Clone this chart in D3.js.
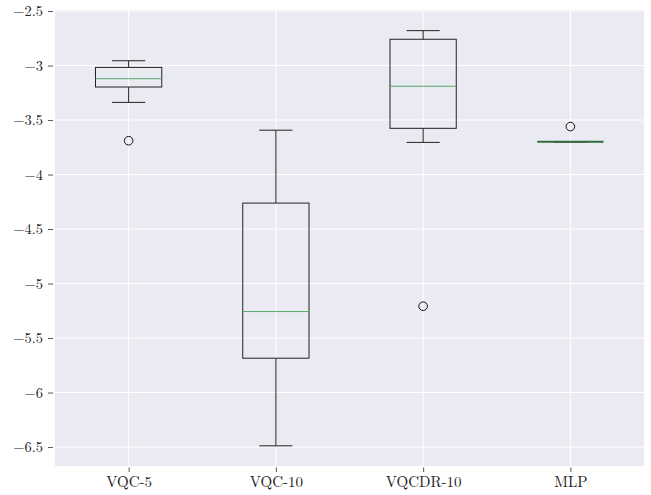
<!DOCTYPE html>
<html>
<head>
<meta charset="utf-8">
<script src="https://cdn.jsdelivr.net/npm/d3@7"></script>
<style>
  body { margin: 0; background: #fff; }
  text { font-family: "Latin Modern Roman", "CMU Serif", "DejaVu Serif", serif; }
</style>
</head>
<body>
<svg id="chart" width="651" height="495"></svg>
<script>
// box statistics
const models = ["VQC-5", "VQC-10", "VQCDR-10", "MLP"];
const whiskerHigh = [-2.956, -3.593, -2.68, -3.70];
const q3 = [-3.017, -4.262, -2.759, -3.70];
const medians = [-3.121, -5.257, -3.19, -3.70];
const q1 = [-3.197, -5.685, -3.576, -3.70];
const whiskerLow = [-3.338, -6.489, -3.705, -3.70];
const outliers = [[-3.69], [], [-5.208], [-3.56]];
const yTicks = [-2.5, -3, -3.5, -4, -4.5, -5, -5.5, -6, -6.5];

const boxes = models.map((m, i) => ({
    name: m, pos: i + 1,
    hi: whiskerHigh[i], q3: q3[i], med: medians[i], q1: q1[i], lo: whiskerLow[i],
    fliers: outliers[i]
}));

const svg = d3.select("#chart");
const margin = { top: 10, right: 7, bottom: 29, left: 55 };
const width = 651 - margin.left - margin.right;
const height = 495 - margin.top - margin.bottom;

const x = d3.scaleLinear().domain([0.5, 4.5]).range([0, width]);
const y = d3.scaleLinear().domain([-6.674, -2.4905]).range([height, 0]);

const g = svg.append("g").attr("transform", `translate(${margin.left},${margin.top})`);

g.append("rect").attr("width", width).attr("height", height).attr("fill", "#EAEAF2");

// grid
g.selectAll(".hgrid").data(yTicks).join("line")
    .attr("x1", 0).attr("x2", width)
    .attr("y1", d => y(d)).attr("y2", d => y(d))
    .attr("stroke", "#fff").attr("stroke-width", 1);
g.selectAll(".vgrid").data(boxes).join("line")
    .attr("x1", d => x(d.pos)).attr("x2", d => x(d.pos))
    .attr("y1", 0).attr("y2", height)
    .attr("stroke", "#fff").attr("stroke-width", 1);

const fmt = d => (d < 0 ? "\u2212" : "") + Math.abs(d);

const yAxis = g.append("g")
    .attr("transform", "translate(-2,0)")
    .call(d3.axisLeft(y).tickValues(yTicks).tickSize(5).tickPadding(5).tickFormat(fmt));
yAxis.select(".domain").remove();
yAxis.selectAll("line").attr("stroke", "#444").attr("stroke-width", 0.9);
yAxis.selectAll("text").attr("font-size", 14.5).attr("fill", "#222");

const xAxis = g.append("g")
    .attr("transform", `translate(0,${height + 1.5})`)
    .call(d3.axisBottom(x).tickValues(boxes.map(d => d.pos)).tickSize(4.5).tickPadding(4.5)
        .tickFormat((d, i) => models[i]));
xAxis.select(".domain").remove();
xAxis.selectAll("line").attr("stroke", "#444").attr("stroke-width", 0.9);
xAxis.selectAll("text").attr("font-size", 15).attr("fill", "#222");

const boxW = 0.45;
const bx = g.selectAll(".box").data(boxes).join("g").attr("class", "box");

// whiskers
bx.append("line")
    .attr("x1", d => x(d.pos)).attr("x2", d => x(d.pos))
    .attr("y1", d => y(d.hi)).attr("y2", d => y(d.q3))
    .attr("stroke", "#222").attr("stroke-width", 1);
bx.append("line")
    .attr("x1", d => x(d.pos)).attr("x2", d => x(d.pos))
    .attr("y1", d => y(d.q1)).attr("y2", d => y(d.lo))
    .attr("stroke", "#222").attr("stroke-width", 1);
// caps
["hi", "lo"].forEach(k => {
    bx.append("line")
        .attr("x1", d => x(d.pos - boxW / 4)).attr("x2", d => x(d.pos + boxW / 4))
        .attr("y1", d => y(d[k])).attr("y2", d => y(d[k]))
        .attr("stroke", "#222").attr("stroke-width", 1);
});
// box
bx.append("rect")
    .attr("x", d => x(d.pos - boxW / 2))
    .attr("width", d => x(d.pos + boxW / 2) - x(d.pos - boxW / 2))
    .attr("y", d => y(d.q3))
    .attr("height", d => Math.max(0, y(d.q1) - y(d.q3)))
    .attr("fill", "none").attr("stroke", "#222").attr("stroke-width", 1);
// median
bx.append("line")
    .attr("x1", d => x(d.pos - boxW / 2)).attr("x2", d => x(d.pos + boxW / 2))
    .attr("y1", d => y(d.med)).attr("y2", d => y(d.med))
    .attr("stroke", d => d.q1 === d.q3 ? "#2f6b3c" : "#55A868").attr("stroke-width", d => d.q1 === d.q3 ? 2 : 1);
// fliers
bx.selectAll(".flier").data(d => d.fliers.map(v => ({ pos: d.pos, v }))).join("circle")
    .attr("cx", d => x(d.pos)).attr("cy", d => y(d.v)).attr("r", 4.3)
    .attr("fill", "none").attr("stroke", "#111").attr("stroke-width", 1);
</script>
</body>
</html>
